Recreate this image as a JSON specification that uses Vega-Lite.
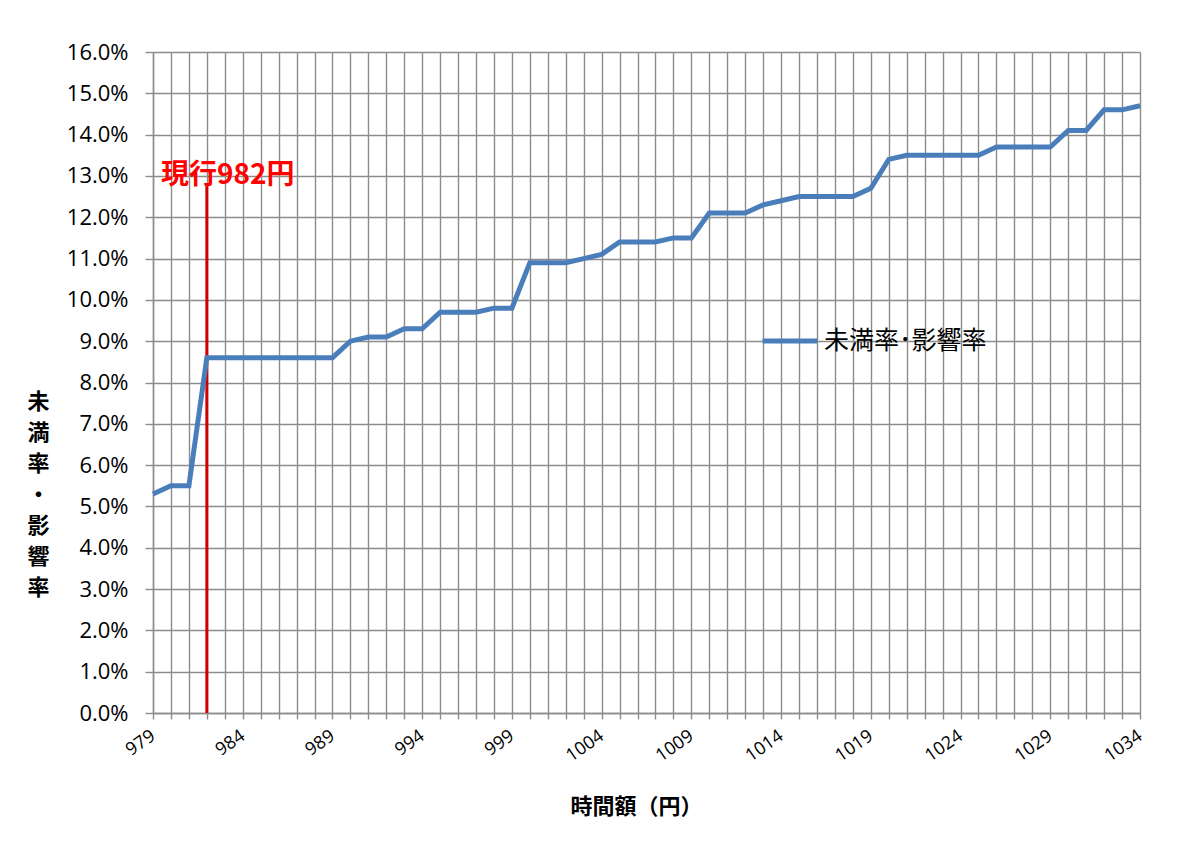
{
  "$schema": "https://vega.github.io/schema/vega-lite/v6.json",
  "width": 987,
  "height": 661,
  "autosize": {"type": "none"},
  "padding": {"left": 153, "top": 52, "right": 37, "bottom": 139},
  "background": "white",
  "config": {
    "view": {"stroke": null},
    "font": "Noto Sans CJK JP"
  },
  "encoding": {
    "x": {
      "field": "wage",
      "type": "quantitative",
      "scale": {"domain": [979, 1034], "nice": false, "zero": false},
      "axis": {
        "values": [979,980,981,982,983,984,985,986,987,988,989,990,991,992,993,994,995,996,997,998,999,1000,1001,1002,1003,1004,1005,1006,1007,1008,1009,1010,1011,1012,1013,1014,1015,1016,1017,1018,1019,1020,1021,1022,1023,1024,1025,1026,1027,1028,1029,1030,1031,1032,1033,1034],
        "format": "d",
        "labelExpr": "(datum.value - 979) % 5 === 0 ? datum.label : ''",
        "labelOverlap": false,
        "labelFlush": false,
        "labelAngle": -35,
        "labelAlign": "right",
        "labelBaseline": "middle",
        "labelFont": "Open Sans",
        "labelFontSize": 18,
        "labelColor": "#000000",
        "labelPadding": 15,
        "labelDx": 3,
        "grid": true,
        "gridColor": "#8c8c8c",
        "gridWidth": 1.4,
        "tickColor": "#8c8c8c",
        "tickSize": 6,
        "tickWidth": 1.4,
        "domainColor": "#8c8c8c",
        "domainWidth": 1.4,
        "title": "時間額（円）",
        "titleFontSize": 22,
        "titleFontWeight": "bold",
        "titleColor": "#000000",
        "titleX": 483,
        "titleY": 93,
        "titleBaseline": "middle"
      }
    },
    "y": {
      "field": "rate",
      "type": "quantitative",
      "scale": {"domain": [0, 0.16], "nice": false},
      "axis": {
        "values": [0,0.01,0.02,0.03,0.04,0.05,0.06,0.07,0.08,0.09,0.1,0.11,0.12,0.13,0.14,0.15,0.16],
        "format": ".1%",
        "labelFont": "Open Sans",
        "labelFontSize": 22,
        "labelColor": "#000000",
        "labelPadding": 17,
        "grid": true,
        "gridColor": "#8c8c8c",
        "gridWidth": 1.4,
        "tickColor": "#8c8c8c",
        "tickSize": 8,
        "tickWidth": 1.4,
        "domainColor": "#8c8c8c",
        "domainWidth": 1.4,
        "title": ["未", "満", "率", "・", "影", "響", "率"],
        "titleAngle": 0,
        "titleFontSize": 22,
        "titleFontWeight": "bold",
        "titleColor": "#000000",
        "titleLineHeight": 31,
        "titleX": -115,
        "titleY": 339,
        "titleAlign": "center",
        "titleBaseline": "top"
      }
    }
  },
  "layer": [
    {
      "data": {"values": [{"wage": 982, "rate": 0, "rate2": 0.1275}]},
      "mark": {"type": "rule", "color": "#d00000", "strokeWidth": 3},
      "encoding": {"y2": {"field": "rate2"}}
    },
    {
      "data": {
        "values": [
          {"wage": 979, "rate": 0.053, "series": "未満率･影響率"},
          {"wage": 980, "rate": 0.055, "series": "未満率･影響率"},
          {"wage": 981, "rate": 0.055, "series": "未満率･影響率"},
          {"wage": 982, "rate": 0.086, "series": "未満率･影響率"},
          {"wage": 983, "rate": 0.086, "series": "未満率･影響率"},
          {"wage": 984, "rate": 0.086, "series": "未満率･影響率"},
          {"wage": 985, "rate": 0.086, "series": "未満率･影響率"},
          {"wage": 986, "rate": 0.086, "series": "未満率･影響率"},
          {"wage": 987, "rate": 0.086, "series": "未満率･影響率"},
          {"wage": 988, "rate": 0.086, "series": "未満率･影響率"},
          {"wage": 989, "rate": 0.086, "series": "未満率･影響率"},
          {"wage": 990, "rate": 0.090, "series": "未満率･影響率"},
          {"wage": 991, "rate": 0.091, "series": "未満率･影響率"},
          {"wage": 992, "rate": 0.091, "series": "未満率･影響率"},
          {"wage": 993, "rate": 0.093, "series": "未満率･影響率"},
          {"wage": 994, "rate": 0.093, "series": "未満率･影響率"},
          {"wage": 995, "rate": 0.097, "series": "未満率･影響率"},
          {"wage": 996, "rate": 0.097, "series": "未満率･影響率"},
          {"wage": 997, "rate": 0.097, "series": "未満率･影響率"},
          {"wage": 998, "rate": 0.098, "series": "未満率･影響率"},
          {"wage": 999, "rate": 0.098, "series": "未満率･影響率"},
          {"wage": 1000, "rate": 0.109, "series": "未満率･影響率"},
          {"wage": 1001, "rate": 0.109, "series": "未満率･影響率"},
          {"wage": 1002, "rate": 0.109, "series": "未満率･影響率"},
          {"wage": 1003, "rate": 0.110, "series": "未満率･影響率"},
          {"wage": 1004, "rate": 0.111, "series": "未満率･影響率"},
          {"wage": 1005, "rate": 0.114, "series": "未満率･影響率"},
          {"wage": 1006, "rate": 0.114, "series": "未満率･影響率"},
          {"wage": 1007, "rate": 0.114, "series": "未満率･影響率"},
          {"wage": 1008, "rate": 0.115, "series": "未満率･影響率"},
          {"wage": 1009, "rate": 0.115, "series": "未満率･影響率"},
          {"wage": 1010, "rate": 0.121, "series": "未満率･影響率"},
          {"wage": 1011, "rate": 0.121, "series": "未満率･影響率"},
          {"wage": 1012, "rate": 0.121, "series": "未満率･影響率"},
          {"wage": 1013, "rate": 0.123, "series": "未満率･影響率"},
          {"wage": 1014, "rate": 0.124, "series": "未満率･影響率"},
          {"wage": 1015, "rate": 0.125, "series": "未満率･影響率"},
          {"wage": 1016, "rate": 0.125, "series": "未満率･影響率"},
          {"wage": 1017, "rate": 0.125, "series": "未満率･影響率"},
          {"wage": 1018, "rate": 0.125, "series": "未満率･影響率"},
          {"wage": 1019, "rate": 0.127, "series": "未満率･影響率"},
          {"wage": 1020, "rate": 0.134, "series": "未満率･影響率"},
          {"wage": 1021, "rate": 0.135, "series": "未満率･影響率"},
          {"wage": 1022, "rate": 0.135, "series": "未満率･影響率"},
          {"wage": 1023, "rate": 0.135, "series": "未満率･影響率"},
          {"wage": 1024, "rate": 0.135, "series": "未満率･影響率"},
          {"wage": 1025, "rate": 0.135, "series": "未満率･影響率"},
          {"wage": 1026, "rate": 0.137, "series": "未満率･影響率"},
          {"wage": 1027, "rate": 0.137, "series": "未満率･影響率"},
          {"wage": 1028, "rate": 0.137, "series": "未満率･影響率"},
          {"wage": 1029, "rate": 0.137, "series": "未満率･影響率"},
          {"wage": 1030, "rate": 0.141, "series": "未満率･影響率"},
          {"wage": 1031, "rate": 0.141, "series": "未満率･影響率"},
          {"wage": 1032, "rate": 0.146, "series": "未満率･影響率"},
          {"wage": 1033, "rate": 0.146, "series": "未満率･影響率"},
          {"wage": 1034, "rate": 0.147, "series": "未満率･影響率"}
        ]
      },
      "mark": {"type": "line", "strokeWidth": 5, "strokeJoin": "miter"},
      "encoding": {
        "color": {
          "field": "series",
          "type": "nominal",
          "scale": {"range": ["#4a7ebb"]},
          "legend": {
            "title": null,
            "orient": "none",
            "legendX": 607,
            "legendY": 259,
            "symbolType": "stroke",
            "symbolSize": 3000,
            "symbolStrokeWidth": 5,
            "labelFontSize": 25,
            "labelColor": "#000000",
            "labelOffset": 4,
            "labelLimit": 400
          }
        }
      }
    },
    {
      "data": {"values": [{"wage": 982, "rate": 0.13, "note": "現行982円"}]},
      "mark": {"type": "text", "color": "#ff0000", "fontSize": 28, "fontWeight": "bold", "align": "center", "baseline": "middle", "dx": 21},
      "encoding": {"text": {"field": "note"}}
    }
  ]
}
